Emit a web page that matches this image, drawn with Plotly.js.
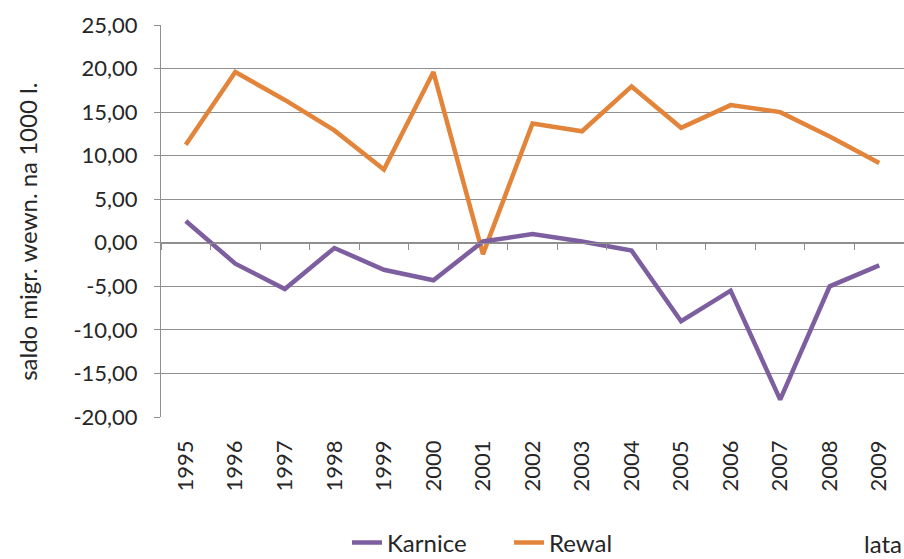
<!DOCTYPE html>
<html>
<head>
<meta charset="utf-8">
<script src="https://cdn.plot.ly/plotly-3.0.1.min.js"></script>
<style>html,body{margin:0;padding:0;background:#fff;}#chart{width:904px;height:559px;}</style>
</head>
<body>
<div id="chart"></div>
<script>
const years = ["1995","1996","1997","1998","1999","2000","2001","2002","2003","2004","2005","2006","2007","2008","2009"];
const karnice = [2.5, -2.4, -5.3, -0.6, -3.1, -4.3, 0.15, 1.0, 0.15, -0.9, -9.0, -5.5, -18.0, -5.0, -2.6];
const rewal = [11.25, 19.6, 16.4, 12.9, 8.4, 19.6, -1.3, 13.7, 12.8, 17.95, 13.2, 15.8, 15.0, 12.2, 9.15];
const yTicks = [-20, -15, -10, -5, 0, 5, 10, 15, 20, 25];
const yTickText = yTicks.map(v => v.toFixed(2).replace('.', ','));
const idx = years.map((_, i) => i);
const bounds = years.map((_, i) => i - 0.5).concat([years.length - 0.5]);

const FONT = 'Lato, "Open Sans", sans-serif';
const TXT = '#262626';
const GRID = '#8f8f8f';

const traces = [
  {x: idx, y: karnice, name: 'Karnice', type: 'scatter', mode: 'lines', xaxis: 'x2', yaxis: 'y',
   line: {color: '#7D5FA0', width: 4.5}},
  {x: idx, y: rewal, name: 'Rewal', type: 'scatter', mode: 'lines', xaxis: 'x', yaxis: 'y',
   line: {color: '#E2843A', width: 4.5}}
];

const layout = {
  width: 904, height: 559,
  margin: {l: 161, r: 0, t: 25, b: 142},
  paper_bgcolor: '#fff', plot_bgcolor: '#fff',
  font: {family: FONT, color: TXT, size: 22},
  showlegend: true,
  legend: {orientation: 'h', xref: 'container', yref: 'container',
           x: 347 / 904, y: 16 / 559, xanchor: 'left', yanchor: 'middle',
           font: {size: 24, color: TXT}, entrywidth: 117, entrywidthmode: 'pixels',
           borderwidth: 0, bgcolor: 'rgba(0,0,0,0)'},
  xaxis: {
    range: [-0.5, years.length - 0.5], tickmode: 'array', tickvals: idx, ticktext: years,
    tickangle: -90, ticks: '', showgrid: false, zeroline: false, showline: false, automargin: false,
    tickfont: {size: 22, color: TXT}, ticklabelstandoff: 18, fixedrange: true
  },
  xaxis2: {
    overlaying: 'x', anchor: 'free', position: 20 / 45, automargin: false,
    range: [-0.5, years.length - 0.5], tickmode: 'array', tickvals: bounds,
    ticks: 'outside', ticklen: 6, tickcolor: GRID, tickwidth: 1,
    showticklabels: false, showgrid: false, zeroline: false,
    showline: true, linecolor: GRID, linewidth: 1
  },
  yaxis: {
    range: [-20, 25], tickmode: 'array', tickvals: yTicks, ticktext: yTickText, automargin: false,
    ticks: 'outside', ticklen: 6, tickcolor: GRID, showgrid: true, gridcolor: GRID, gridwidth: 1,
    zeroline: false, showline: true, linecolor: GRID, linewidth: 1,
    tickfont: {size: 22, color: TXT}, ticklabelstandoff: 12
  },
  annotations: [
    {text: 'saldo migr. wewn. na 1000 l.', xref: 'paper', yref: 'paper', x: -0.18, y: 0.473,
     textangle: -90, showarrow: false, xanchor: 'center', yanchor: 'middle', font: {size: 24, color: TXT}},
    {text: 'lata', xref: 'paper', yref: 'paper', x: 1.0, y: (417 - 543) / 392, xanchor: 'right', yanchor: 'middle',
     showarrow: false, font: {size: 24, color: TXT}}
  ]
};

Plotly.newPlot('chart', traces, layout, {displayModeBar: false, staticPlot: true});
</script>
</body>
</html>
